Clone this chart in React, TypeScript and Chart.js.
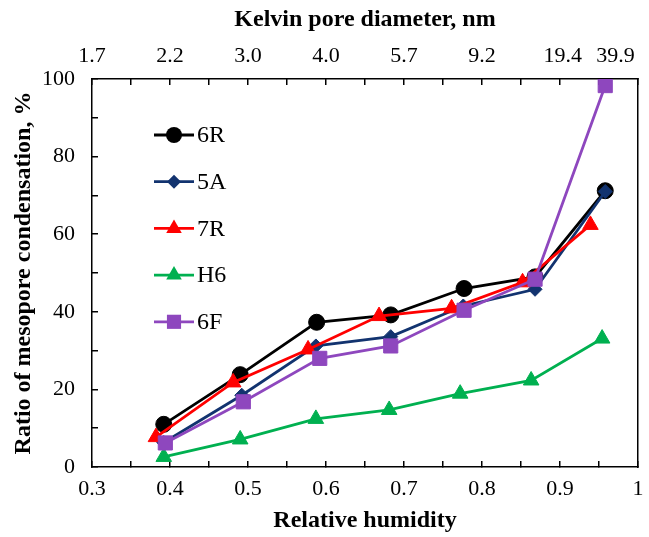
import React, { useEffect, useRef } from "react";
import { Chart, registerables } from "chart.js";

Chart.register(...registerables);

// ---- Data ----
const seriesNames = ["6R", "5A", "7R", "H6", "6F"];

const rh6R = [0.392, 0.49, 0.588, 0.683, 0.777, 0.868, 0.958];
const val6R = [11.0, 23.8, 37.3, 39.2, 46.0, 49.0, 71.2];

const rh5A = [0.392, 0.492, 0.587, 0.683, 0.776, 0.868, 0.958];
const val5A = [6.3, 18.5, 31.2, 33.6, 41.5, 45.8, 71.0];

const rh7R = [0.382, 0.481, 0.577, 0.668, 0.761, 0.852, 0.939];
const val7R = [7.7, 21.8, 30.3, 38.9, 40.9, 47.6, 62.4];

const rhH6 = [0.392, 0.49, 0.587, 0.681, 0.772, 0.863, 0.954];
const valH6 = [2.6, 7.1, 12.4, 14.7, 18.9, 22.3, 33.1];

const rh6F = [0.394, 0.494, 0.592, 0.683, 0.777, 0.868, 0.958];
const val6F = [6.2, 16.8, 28.0, 31.2, 40.4, 48.4, 98.3];

const humidityTickValues = [0.3, 0.4, 0.5, 0.6, 0.7, 0.8, 0.9, 1.0];
const humidityTickLabels = ["0.3", "0.4", "0.5", "0.6", "0.7", "0.8", "0.9", "1"];

const poreTickValues = [0.3, 0.4, 0.5, 0.6, 0.7, 0.8, 0.9, 0.95];
const poreTickLabels = ["1.7", "2.2", "3.0", "4.0", "5.7", "9.2", " 19.4", "      39.9"];

const yTickValues = [0, 20, 40, 60, 80, 100];
const yTickLabels = ["0", "20", "40", "60", "80", "100"];

// ---- Styles ----
const colors = ["#000000", "#12336F", "#FF0000", "#00B050", "#8E47BE"];
const pointStyles = ["circle", "rectRot", "triangle", "triangle", "rect"];
const pointRadii = [8, 7, 9, 9, 10];

const FONT = "'Liberation Serif', 'Times New Roman', serif";

function toPoints(xs: number[], ys: number[]) {
  return xs.map((x, i) => ({ x, y: ys[i] }));
}

function labelFor(values: number[], labels: string[], v: number) {
  const k = Math.round(v * 100);
  const idx = values.findIndex((t) => Math.round(t * 100) === k);
  return idx >= 0 ? labels[idx] : "";
}

function drawMarker(ctx: CanvasRenderingContext2D, style: string, x: number, y: number, r: number) {
  ctx.beginPath();
  if (style === "circle") {
    ctx.arc(x, y, r, 0, Math.PI * 2);
  } else if (style === "rect") {
    const s = Math.SQRT1_2 * r;
    ctx.rect(x - s, y - s, 2 * s, 2 * s);
  } else if (style === "rectRot") {
    ctx.moveTo(x, y - r);
    ctx.lineTo(x + r, y);
    ctx.lineTo(x, y + r);
    ctx.lineTo(x - r, y);
    ctx.closePath();
  } else if (style === "triangle") {
    let rad = 0;
    ctx.moveTo(x + Math.sin(rad) * r, y - Math.cos(rad) * r);
    rad += (2 * Math.PI) / 3;
    ctx.lineTo(x + Math.sin(rad) * r, y - Math.cos(rad) * r);
    rad += (2 * Math.PI) / 3;
    ctx.lineTo(x + Math.sin(rad) * r, y - Math.cos(rad) * r);
    ctx.closePath();
  }
  ctx.fill();
}

const legendPlugin = {
  id: "insideLegend",
  afterDatasetsDraw(chart: any) {
    const ctx = chart.ctx as CanvasRenderingContext2D;
    const area = chart.chartArea;
    const x0 = area.left + 62;
    const lineLen = 40;
    ctx.save();
    chart.data.datasets.forEach((ds: any, i: number) => {
      const y = area.top + 56 + i * 46.7;
      ctx.strokeStyle = ds.borderColor;
      ctx.lineWidth = ds.borderWidth;
      ctx.beginPath();
      ctx.moveTo(x0, y);
      ctx.lineTo(x0 + lineLen, y);
      ctx.stroke();
      ctx.fillStyle = ds.pointBackgroundColor;
      drawMarker(ctx, ds.pointStyle, x0 + lineLen / 2, y, ds.pointRadius);
      ctx.fillStyle = "#000";
      ctx.font = `24px ${FONT}`;
      ctx.textAlign = "left";
      ctx.textBaseline = "middle";
      ctx.fillText(ds.label, x0 + lineLen + 3, y + 1);
    });
    ctx.restore();
  },
};

export default function App() {
  const ref = useRef<HTMLCanvasElement | null>(null);

  useEffect(() => {
    document.body.style.margin = "0";
    const canvas = ref.current;
    if (!canvas) return;

    const allX = [rh6R, rh5A, rh7R, rhH6, rh6F];
    const allY = [val6R, val5A, val7R, valH6, val6F];

    const datasets = seriesNames.map((name, i) => ({
      label: name,
      data: toPoints(allX[i], allY[i]),
      borderColor: colors[i],
      backgroundColor: colors[i],
      pointBackgroundColor: colors[i],
      pointBorderColor: colors[i],
      pointStyle: pointStyles[i],
      pointRadius: pointRadii[i],
      pointBorderWidth: 1,
      borderWidth: 2.8,
      showLine: true,
      tension: 0,
      order: seriesNames.length - i,
      xAxisID: "x",
      yAxisID: "y",
    }));

    const tickFont = { family: FONT, size: 22 };
    const titleFont = { family: FONT, size: 24, weight: "bold" as const };
    const gridCommon = {
      drawOnChartArea: false,
      drawTicks: true,
      tickLength: -6,
      color: "#000",
      lineWidth: 1.5,
    };
    const border = { display: true, color: "#000", width: 1.5 };

    const chart = new Chart(canvas, {
      type: "scatter",
      data: { datasets },
      plugins: [legendPlugin],
      options: {
        responsive: false,
        animation: false,
        layout: { padding: 0 },
        plugins: {
          legend: { display: false },
          tooltip: { enabled: false },
        },
        scales: {
          x: {
            type: "linear",
            position: "bottom",
            min: 0.3,
            max: 1.0,
            afterBuildTicks: (scale: any) => {
              const t = [];
              for (let k = 30; k <= 100; k += 5) t.push({ value: k / 100 });
              scale.ticks = t;
            },
            ticks: {
              autoSkip: false,
              maxRotation: 0,
              padding: 15,
              color: "#000",
              font: tickFont,
              callback: (v: any) => labelFor(humidityTickValues, humidityTickLabels, Number(v)),
            },
            grid: gridCommon,
            border,
            title: {
              display: true,
              text: "Relative humidity",
              color: "#000",
              font: titleFont,
              padding: { top: 0, bottom: 2 },
            },
            afterFit: (scale: any) => {
              scale.height = 70;
              scale.paddingLeft = 0;
              scale.paddingRight = 0;
            },
          },
          xTop: {
            type: "linear",
            position: "top",
            min: 0.3,
            max: 1.0,
            afterBuildTicks: (scale: any) => {
              const t = [];
              for (let k = 30; k <= 100; k += 5) t.push({ value: k / 100 });
              scale.ticks = t;
            },
            ticks: {
              autoSkip: false,
              maxRotation: 0,
              padding: 16,
              color: "#000",
              font: tickFont,
              callback: (v: any) => labelFor(poreTickValues, poreTickLabels, Number(v)),
            },
            grid: gridCommon,
            border,
            title: {
              display: true,
              text: "Kelvin pore diameter, nm",
              color: "#000",
              font: titleFont,
              padding: { top: 5, bottom: 0 },
            },
            afterFit: (scale: any) => {
              scale.height = 79;
              scale.paddingLeft = 0;
              scale.paddingRight = 0;
            },
          },
          y: {
            type: "linear",
            position: "left",
            min: 0,
            max: 100,
            afterBuildTicks: (scale: any) => {
              const t = [];
              for (let k = 0; k <= 100; k += 10) t.push({ value: k });
              scale.ticks = t;
            },
            ticks: {
              autoSkip: false,
              padding: 23,
              color: "#000",
              font: tickFont,
              callback: (v: any) => labelFor(yTickValues.map((n) => n / 100), yTickLabels, Number(v) / 100),
            },
            grid: gridCommon,
            border,
            title: {
              display: true,
              text: "Ratio of mesopore condensation, %",
              color: "#000",
              font: titleFont,
              padding: { top: 9, bottom: 0 },
            },
            afterFit: (scale: any) => {
              scale.width = 92;
            },
          },
          yRight: {
            type: "linear",
            position: "right",
            min: 0,
            max: 100,
            ticks: { display: false },
            grid: { drawOnChartArea: false, drawTicks: false },
            border,
            afterFit: (scale: any) => {
              scale.width = 6;
            },
          },
        },
      } as any,
    });

    return () => chart.destroy();
  }, []);

  return (
    <div style={{ width: 649, height: 537, background: "#fff" }}>
      <canvas ref={ref} width={649} height={537} style={{ display: "block" }} />
    </div>
  );
}
